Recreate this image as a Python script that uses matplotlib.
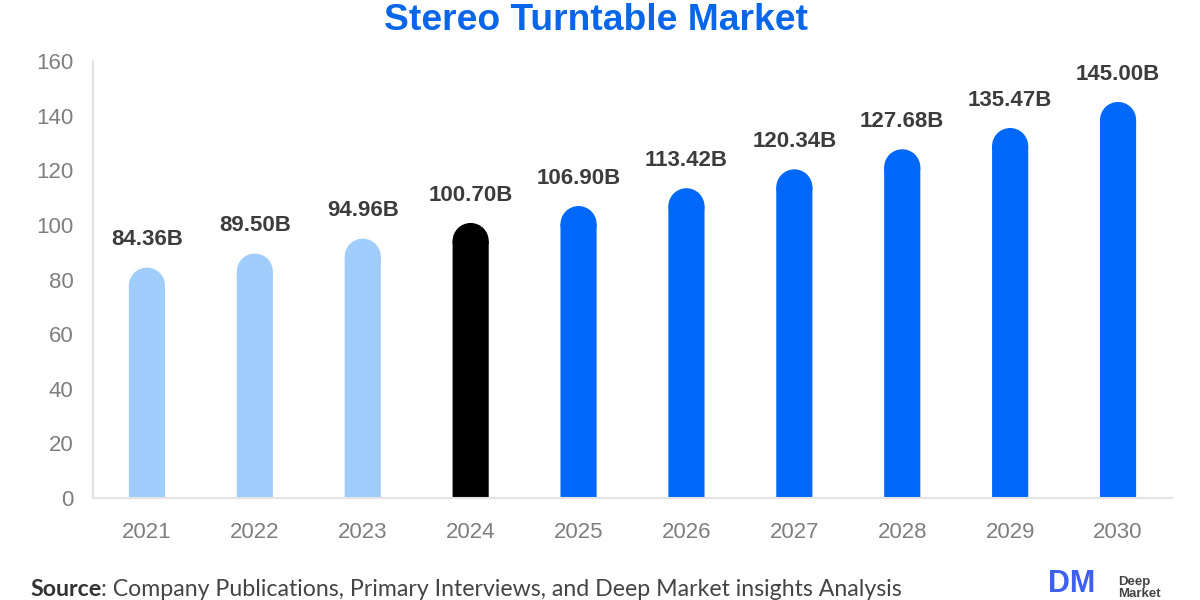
import matplotlib
matplotlib.use("Agg")
import matplotlib.pyplot as plt
from matplotlib.patches import Ellipse

years = ['2021', '2022', '2023', '2024', '2025', '2026', '2027', '2028', '2029', '2030']
values = [84.36, 89.50, 94.96, 100.70, 106.90, 113.42, 120.34, 127.68, 135.47, 145.00]
labels = ['84.36B', '89.50B', '94.96B', '100.70B', '106.90B', '113.42B', '120.34B', '127.68B', '135.47B', '145.00B']
yticks = [0, 20, 40, 60, 80, 100, 120, 140, 160]

LIGHT = '#a1cdfd'
BLACK = '#000000'
BLUE = '#0068f9'
colors = [LIGHT] * 3 + [BLACK] + [BLUE] * 6

plt.rcParams['font.family'] = ['Liberation Sans', 'DejaVu Sans']

W, H = 1200, 600
fig = plt.figure(figsize=(12, 6), dpi=100)
ax = fig.add_axes([93 / W, 1 - 498 / H, (1172 - 93) / W, (498 - 61) / H])
ax.set_xlim(-0.5, 9.5)
ax.set_ylim(0, 160)

bar_w = 0.335
cap_h = 6.6  # height of the round top, in data units

# square body then an ellipse on top so only the top is rounded
for i, v in enumerate(values):
    ax.bar(i, v - cap_h, width=bar_w, color=colors[i], linewidth=0, snap=False)
    ax.add_patch(Ellipse((i, v - cap_h), bar_w, cap_h * 2, facecolor=colors[i], linewidth=0))
    ax.annotate(labels[i], (i, v), xytext=(0, 20), textcoords='offset points',
                ha='center', va='center', fontsize=16, fontweight='bold', color='#3c3c3c')

ax.set_xticks(range(len(years)))
ax.set_xticklabels(years)
ax.set_yticks(yticks)
ax.tick_params(axis='both', length=0, labelsize=16, labelcolor='#7f7f7f')
ax.tick_params(axis='x', pad=17)
ax.tick_params(axis='y', pad=14)

for side in ['top', 'right']:
    ax.spines[side].set_visible(False)
for side in ['left', 'bottom']:
    ax.spines[side].set_color('#e3e3e3')
    ax.spines[side].set_linewidth(1.5)

fig.text(596 / W, 1 - 20 / H, 'Stereo Turntable Market', ha='center', va='center',
         fontsize=26.8, fontweight='bold', color='#0a66e8')

# source line
fig.text(30 / W, 1 - 596 / H, 'Source', ha='left', va='baseline',
         fontsize=16.7, color='#333333', family='Lato', fontweight='bold')
fig.text(101 / W, 1 - 596 / H, ': Company Publications, Primary Interviews, and Deep Market insights Analysis',
         ha='left', va='baseline', fontsize=16.7, color='#444444', family='Lato')

# logo, sits on the bottom edge
fig.text(1048 / W, 1 - 599.5 / H, 'DM', ha='left', va='bottom', fontsize=22,
         fontweight='bold', color='#3f5fee')
fig.text(1118 / W, 1 - 585 / H, 'Deep', ha='left', va='baseline', fontsize=9.5,
         fontweight='bold', color='#444444')
fig.text(1118 / W, 1 - 597 / H, 'Market', ha='left', va='baseline', fontsize=9.5,
         fontweight='bold', color='#444444')

fig.savefig('out.png', dpi=100)
